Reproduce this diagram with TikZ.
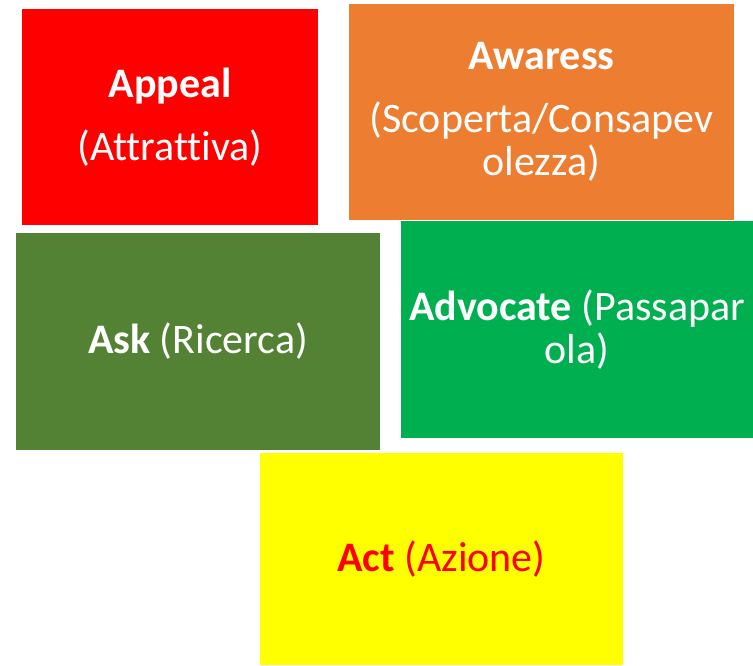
\documentclass[tikz,border=0pt]{standalone}
\usepackage{fontspec}
\setmainfont{Carlito}[Ligatures=NoCommon]
\usepackage{xcolor}
\usetikzlibrary{positioning}
\definecolor{appealred}{HTML}{FF0000}
\definecolor{awareorange}{HTML}{ED7D31}
\definecolor{askgreen}{HTML}{548235}
\definecolor{advgreen}{HTML}{00B050}
\definecolor{actyellow}{HTML}{FFFF00}
\begin{document}
\begin{tikzpicture}[
  x=1pt, y=-1pt,
  font=\fontsize{42}{43}\selectfont,
  card/.style={inner sep=0pt, align=center, text=white}
]
\useasboundingbox (0,0) rectangle (753,665);
\fill[white] (0,0) rectangle (753,665);
\node[card, fill=appealred, minimum width=296pt, minimum height=216pt] (appeal) at (170,117)
  {\textbf{Appeal}\\[20pt](Attrattiva)};
\node[card, fill=awareorange, minimum width=385pt, minimum height=216pt] (aware) at (541.5,112)
  {\textbf{Awaress}\\[20pt](Scoperta/Consapev\\olezza)};
\node[card, fill=askgreen, minimum width=364pt, minimum height=217pt] (ask) at (198,341.5)
  {\textbf{Ask} (Ricerca)};
\node[card, fill=advgreen, minimum width=352pt, minimum height=217pt] (advocate) at (577,329.5)
  {\textbf{Advocate} (Passapar\\ola)};
\node[card, fill=actyellow, text=appealred, minimum width=363pt, minimum height=212pt] (act) at (441.5,559)
  {\textbf{Act} (Azione)};
\end{tikzpicture}
\end{document}
